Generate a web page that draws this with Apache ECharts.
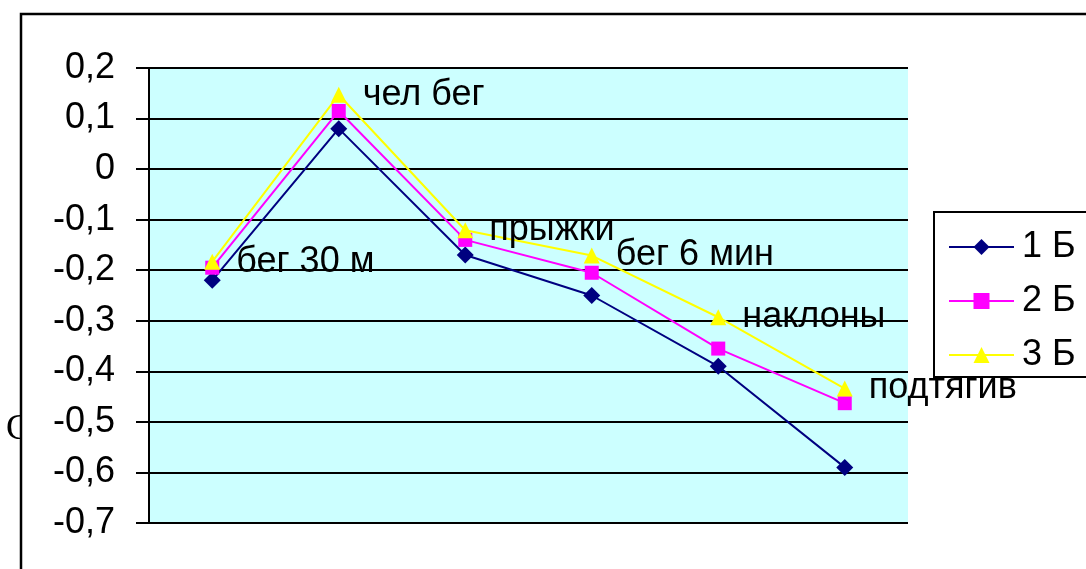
<!DOCTYPE html>
<html>
<head>
<meta charset="utf-8">
<script src="https://cdn.jsdelivr.net/npm/echarts@6/dist/echarts.min.js"></script>
<style>
html,body{margin:0;padding:0;background:#fff;}
#chart{width:1086px;height:569px;}
</style>
</head>
<body>
<div id="chart"></div>
<script>
const categories = ["бег 30 м", "чел бег", "прыжки", "бег 6 мин", "наклоны", "подтягив"];
const seriesNames = ["1 Б", "2 Б", "3 Б"];
const series1 = [-0.22, 0.08, -0.17, -0.25, -0.39, -0.59];
const series2 = [-0.195, 0.115, -0.14, -0.205, -0.355, -0.463];
const series3 = [-0.183, 0.147, -0.121, -0.171, -0.293, -0.434];
const yMin = -0.7, yMax = 0.2, yStep = 0.1;

const FONT = "'Liberation Sans', Arial, sans-serif";
const chart = echarts.init(document.getElementById('chart'), null, {renderer: 'canvas'});

const option = {
  animation: false,
  backgroundColor: '#ffffff',
  grid: {
    left: 149, right: 178, top: 68, bottom: 46,
    show: true, backgroundColor: '#CCFFFF', borderWidth: 0
  },
  xAxis: {
    type: 'category',
    data: categories,
    boundaryGap: true,
    axisLine: {show: false},
    axisTick: {show: false},
    axisLabel: {show: false},
    splitLine: {show: false}
  },
  yAxis: {
    type: 'value',
    min: yMin, max: yMax, interval: yStep,
    axisLine: {show: true, lineStyle: {color: '#000', width: 2}},
    axisTick: {show: true, length: 13, lineStyle: {color: '#000', width: 2}},
    axisLabel: {
      margin: 34, color: '#000', fontFamily: FONT, fontSize: 36,
      formatter: function (v) {
        if (Math.abs(v) < 1e-9) return '0';
        return v.toFixed(1).replace('.', ',');
      }
    },
    splitLine: {show: true, lineStyle: {color: '#000', width: 2}}
  },
  legend: {
    orient: 'vertical',
    left: 943, top: 224,
    itemWidth: 65, itemHeight: 20,
    itemGap: 18,
    textStyle: {color: '#000', fontFamily: FONT, fontSize: 36, lineHeight: 36, padding: [0, 0, 0, 3]},
    data: seriesNames
  },
  graphic: [
    {type: 'text', z: 1, left: 6, top: 412, style: {text: 'С', fontFamily: "'Liberation Serif', serif", fontSize: 36, fill: '#000'}},
    {type: 'rect', z: 2, shape: {x: 22, y: 405, width: 28, height: 50}, style: {fill: '#fff'}},
    {type: 'rect', z: 3, shape: {x: 21, y: 14, width: 1300, height: 800}, style: {fill: 'none', stroke: '#000', lineWidth: 2.5}},
    {type: 'rect', z: 1, shape: {x: 934, y: 212, width: 300, height: 165}, style: {fill: '#fff', stroke: '#000', lineWidth: 2}}
  ],
  series: [
    {
      name: seriesNames[0], type: 'line', data: series1,
      symbol: 'diamond', symbolSize: 17,
      itemStyle: {color: '#000080'},
      lineStyle: {color: '#000080', width: 2}
    },
    {
      name: seriesNames[1], type: 'line', data: series2,
      symbol: 'rect', symbolSize: 14,
      itemStyle: {color: '#FF00FF'},
      lineStyle: {color: '#FF00FF', width: 2}
    },
    {
      name: seriesNames[2], type: 'line', data: series3,
      symbol: 'triangle', symbolSize: 16,
      itemStyle: {color: '#FFFF00'},
      lineStyle: {color: '#FFFF00', width: 2},
      label: {
        show: true, position: 'right', distance: 16,
        formatter: '{b}', color: '#000', fontFamily: FONT, fontSize: 36
      }
    }
  ]
};
chart.setOption(option);
</script>
</body>
</html>
